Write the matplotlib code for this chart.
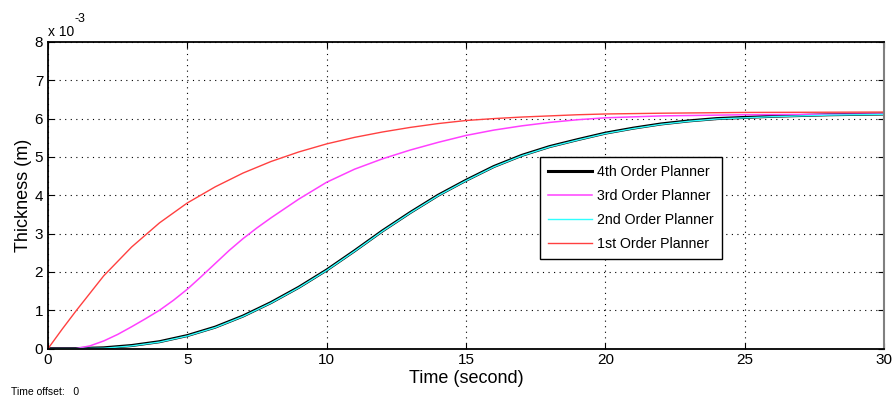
import matplotlib
matplotlib.use('Agg')
from matplotlib import pyplot as plt

plt.rcParams['font.family'] = ['Liberation Sans', 'DejaVu Sans']

# thickness values in units of 1e-3 m
t_red = [0, 0.5, 1, 2, 3, 4, 5, 6, 7, 8, 9, 10, 11, 12, 13, 14, 15, 16, 17, 18, 19, 20, 22, 25, 30]
y_red = [0, 0.5, 0.98, 1.9, 2.65, 3.28, 3.8, 4.22, 4.58, 4.88, 5.13, 5.34, 5.51, 5.65, 5.77, 5.87, 5.95, 6.0, 6.04, 6.07, 6.1, 6.12, 6.14, 6.16, 6.17]

t_mag = [0, 1, 1.5, 2, 2.5, 3, 3.5, 4, 4.5, 5, 5.5, 6, 6.5, 7, 7.5, 8, 9, 10, 11, 12, 13, 14, 15, 16, 17, 18, 19, 20, 22, 25, 30]
y_mag = [0, 0, 0.07, 0.2, 0.37, 0.57, 0.78, 1.0, 1.26, 1.55, 1.88, 2.22, 2.56, 2.87, 3.15, 3.41, 3.9, 4.34, 4.68, 4.95, 5.18, 5.38, 5.56, 5.7, 5.81, 5.9, 5.97, 6.02, 6.07, 6.1, 6.12]

t_blk = [0, 1, 2, 3, 4, 5, 6, 7, 8, 9, 10, 11, 12, 13, 14, 15, 16, 17, 18, 19, 20, 21, 22, 23, 24, 25, 26, 27, 28, 30]
y_blk = [0, 0, 0.02, 0.08, 0.18, 0.34, 0.56, 0.85, 1.2, 1.6, 2.05, 2.55, 3.07, 3.55, 4.0, 4.39, 4.75, 5.04, 5.27, 5.45, 5.62, 5.75, 5.86, 5.94, 6.0, 6.03, 6.06, 6.08, 6.1, 6.12]
y_cyn = [0, 0, 0.01, 0.07, 0.17, 0.33, 0.55, 0.84, 1.19, 1.59, 2.04, 2.54, 3.06, 3.54, 3.99, 4.38, 4.74, 5.03, 5.26, 5.44, 5.61, 5.74, 5.85, 5.93, 5.99, 6.02, 6.05, 6.07, 6.09, 6.11]

fig = plt.figure(figsize=(8.93, 4.03), dpi=100)
ax = fig.add_axes([0.0538, 0.135, 0.9361, 0.761])

ax.plot(t_blk, y_blk, color='black', linewidth=2.2, label='4th Order Planner')
ax.plot(t_mag, y_mag, color='#ff40ff', linewidth=1.1, label='3rd Order Planner')
ax.plot(t_blk, y_cyn, color='#30ffff', linewidth=1.0, label='2nd Order Planner')
ax.plot(t_red, y_red, color='#ff4040', linewidth=1.0, label='1st Order Planner')

ax.set_xlim(0, 30)
ax.set_ylim(0, 8)
ax.set_xticks(range(0, 31, 5))
ax.set_yticks(range(0, 9))
ax.grid(True, color='black', linestyle=(0, (1, 4)), linewidth=0.8)
ax.tick_params(direction='in', top=True, right=True, length=4, labelsize=11)
for s in ['left', 'bottom', 'top']:
    ax.spines[s].set_linewidth(1.3)
ax.spines['right'].set_color('#808080')
ax.spines['right'].set_linewidth(1.5)

ax.set_xlabel('Time (second)', fontsize=13, labelpad=2)
ax.set_ylabel('Thickness (m)', fontsize=13, labelpad=2)

ax.text(0.0, 1.01, 'x 10', transform=ax.transAxes, fontsize=10, ha='left', va='bottom')
ax.text(0.032, 1.055, '-3', transform=ax.transAxes, fontsize=9, ha='left', va='bottom')

fig.text(0.012, 0.015, 'Time offset:   0', fontsize=7.5, ha='left', va='bottom')

leg = ax.legend(loc='upper left', bbox_to_anchor=(0.5885, 0.625), fontsize=10.2,
                fancybox=False, framealpha=1, edgecolor='black', handlelength=3.1,
                handletextpad=0.4, borderpad=0.55, labelspacing=0.72, borderaxespad=0)
leg.get_frame().set_linewidth(1.0)

plt.savefig('out.png', dpi=100)
